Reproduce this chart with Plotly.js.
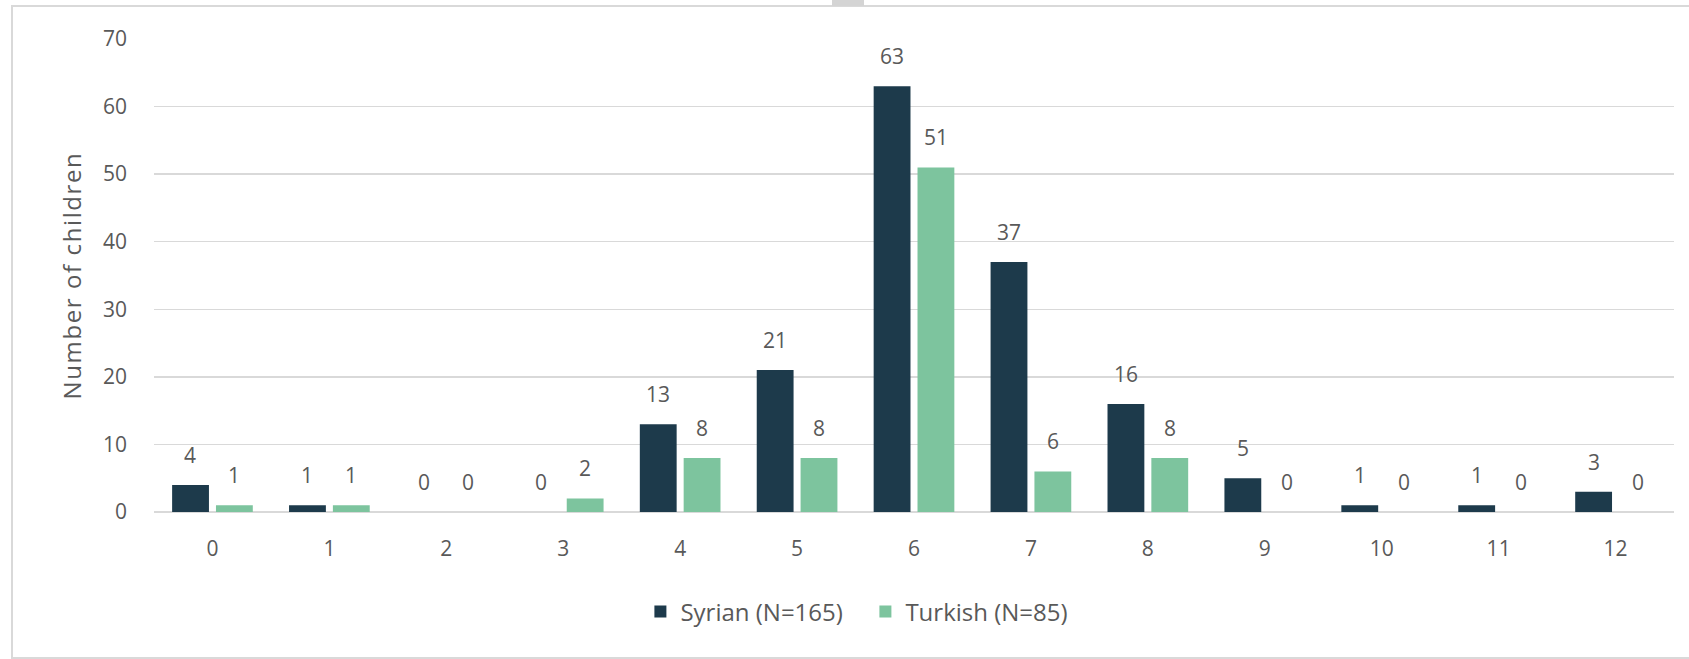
<!DOCTYPE html>
<html>
<head>
<meta charset="utf-8">
<script src="https://cdn.plot.ly/plotly-3.0.1.min.js"></script>
<style>
  html, body { margin: 0; padding: 0; background: #ffffff; }
  #wrap { position: relative; width: 1689px; height: 659px; overflow: hidden; }
  #chart { position: absolute; left: 0; top: 0; width: 1689px; height: 659px; }
  #frame { position: absolute; left: 11px; top: 5px; width: 1690px; height: 650px;
           border: 2px solid #d9d9d9; pointer-events: none; }
  #tab { position: absolute; left: 832px; top: 0; width: 32px; height: 6px; background: #d4d4d4; }
  #chart .ytitle { letter-spacing: 1.6px; }
  #chart .legendbar path { transform: scale(1.3); }
</style>
</head>
<body>
<div id="wrap">
  <div id="chart"></div>
  <div id="frame"></div>
  <div id="tab"></div>
</div>
<script>
const categories = ['0','1','2','3','4','5','6','7','8','9','10','11','12'];
const syrian = [4, 1, 0, 0, 13, 21, 63, 37, 16, 5, 1, 1, 3];
const turkish = [1, 1, 0, 2, 8, 8, 51, 6, 8, 0, 0, 0, 0];
const seriesNames = ['Syrian (N=165)', 'Turkish (N=85)'];
const seriesColors = ['#1d3a4b', '#7dc49e'];
const yTitle = 'Number of children';

const FONT = '"Open Sans", "Noto Sans", sans-serif';
const TXT = '#595959';

const traces = [syrian, turkish].map((vals, i) => ({
  type: 'bar',
  name: seriesNames[i],
  x: categories,
  y: vals,
  marker: { color: seriesColors[i] },
  hoverinfo: 'x+y+name'
}));

const slotShift = 22; // half of a group slot, in px
const annotations = [];
[syrian, turkish].forEach((vals, i) => {
  vals.forEach((v, j) => {
    annotations.push({
      xref: 'x', yref: 'y',
      x: categories[j], y: v,
      text: String(v),
      showarrow: false,
      xshift: i === 0 ? -slotShift : slotShift,
      yshift: 30,
      yanchor: 'middle',
      font: { family: FONT, size: 21, color: TXT }
    });
  });
});

const layout = {
  width: 1689, height: 659,
  margin: { l: 154, r: 15, t: 39, b: 147 },
  paper_bgcolor: 'rgba(0,0,0,0)',
  plot_bgcolor: 'rgba(0,0,0,0)',
  font: { family: FONT, size: 21, color: TXT },
  barmode: 'group',
  bargap: 0.25,
  bargroupgap: 0.16,
  showlegend: true,
  legend: {
    orientation: 'h',
    x: 0.32, xanchor: 'left',
    y: -0.211, yanchor: 'middle',
    font: { family: FONT, size: 24, color: TXT },
    traceorder: 'normal',
    itemwidth: 30,
    entrywidth: 180,
    entrywidthmode: 'pixels'
  },
  xaxis: {
    type: 'category',
    showgrid: false,
    showline: false,
    zeroline: false,
    ticks: '',
    ticklabelstandoff: 22,
    tickfont: { family: FONT, size: 21, color: TXT }
  },
  yaxis: {
    range: [0, 70],
    dtick: 10,
    tick0: 0,
    showgrid: true,
    gridcolor: '#d9d9d9',
    gridwidth: 1.5,
    zeroline: true,
    zerolinecolor: '#d9d9d9',
    zerolinewidth: 1.5,
    showline: false,
    ticks: '',
    ticklabelstandoff: 26,
    tickfont: { family: FONT, size: 21, color: TXT },
    title: { text: yTitle, standoff: 14, font: { family: FONT, size: 24, color: TXT } }
  },
  annotations: annotations
};

Plotly.newPlot('chart', traces, layout, { staticPlot: true, displayModeBar: false });
</script>
</body>
</html>
